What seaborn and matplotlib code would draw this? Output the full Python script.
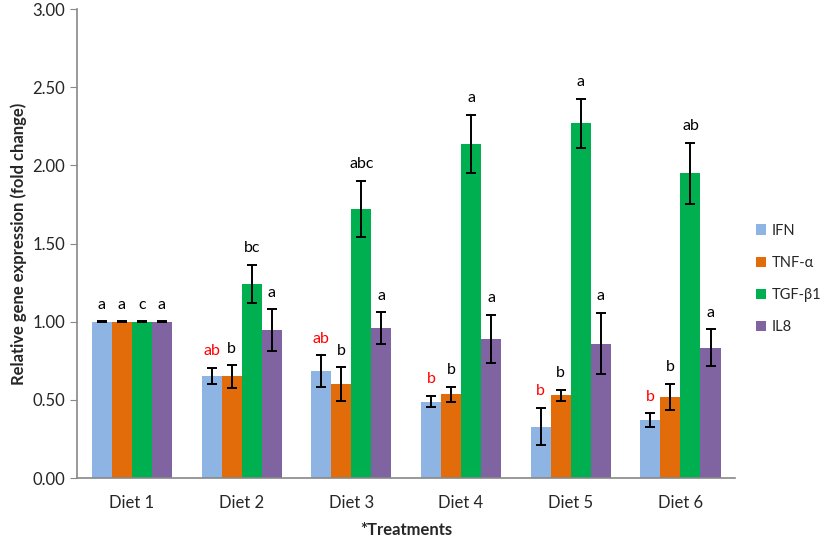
import matplotlib
matplotlib.use('Agg')
import matplotlib.pyplot as plt
import numpy as np
import pandas as pd
import seaborn as sns

# data
diets = ['Diet 1', 'Diet 2', 'Diet 3', 'Diet 4', 'Diet 5', 'Diet 6']
genes = ['IFN', 'TNF-α', 'TGF-β1', 'IL8']

ifn = [1.00, 0.655, 0.685, 0.49, 0.33, 0.37]
tnf = [1.00, 0.65, 0.60, 0.535, 0.53, 0.52]
tgf = [1.00, 1.24, 1.72, 2.14, 2.27, 1.95]
il8 = [1.00, 0.945, 0.96, 0.89, 0.86, 0.835]

ifn_err = [0.003, 0.05, 0.10, 0.035, 0.12, 0.045]
tnf_err = [0.003, 0.072, 0.108, 0.05, 0.034, 0.083]
tgf_err = [0.003, 0.123, 0.18, 0.186, 0.157, 0.195]
il8_err = [0.003, 0.135, 0.10, 0.155, 0.195, 0.117]

ifn_lab = ['a', 'ab', 'ab', 'b', 'b', 'b']
tnf_lab = ['a', 'b', 'b', 'b', 'b', 'b']
tgf_lab = ['c', 'bc', 'abc', 'a', 'a', 'ab']
il8_lab = ['a', 'a', 'a', 'a', 'a', 'a']

colors = ['#8DB4E3', '#E36C0A', '#00B050', '#8064A2']
label_colors = [['black'] + ['red'] * 5, ['black'] * 6, ['black'] * 6, ['black'] * 6]

values = [ifn, tnf, tgf, il8]
errors = [ifn_err, tnf_err, tgf_err, il8_err]
letters = [ifn_lab, tnf_lab, tgf_lab, il8_lab]

df = pd.DataFrame({
    'diet': diets * 4,
    'gene': [g for g in genes for _ in diets],
    'value': ifn + tnf + tgf + il8,
})

sns.set_style('white')
plt.rcParams['font.family'] = ['Lato', 'DejaVu Sans']

fig = plt.figure(figsize=(8.29, 5.39), dpi=100)
ax = fig.add_axes([0.093, 0.113, 0.794, 0.870])

sns.barplot(data=df, x='diet', y='value', hue='gene', order=diets, hue_order=genes,
            palette=colors, width=0.73, errorbar=None, saturation=1,
            linewidth=0, ax=ax, legend=True)

# error bars and significance letters
bar_groups = list(ax.containers)
for i, cont in enumerate(bar_groups):
    xs = [p.get_x() + p.get_width() / 2 for p in cont.patches]
    ax.errorbar(xs, values[i], yerr=errors[i], fmt='none', ecolor='black',
                elinewidth=1.4, capsize=3.5, capthick=1.4)
    for j, x in enumerate(xs):
        ax.annotate(letters[i][j], (x, values[i][j] + errors[i][j]),
                    xytext=(0, 7), textcoords='offset points',
                    ha='center', va='bottom', fontsize=11.5,
                    color=label_colors[i][j])

ax.set_ylim(0, 3.0)
ax.set_xlim(-0.5, 5.5)
ax.set_yticks(np.arange(0, 3.01, 0.5))
ax.set_yticklabels([f'{v:.2f}' for v in np.arange(0, 3.01, 0.5)], fontsize=12)
ax.set_xticks(range(len(diets)))
ax.set_xticklabels(diets, fontsize=12)
ax.set_xticks(np.arange(-0.5, 6, 1), minor=True)
ax.tick_params(axis='x', which='major', length=0, pad=12)
ax.tick_params(axis='x', which='minor', length=5, color='#888888', direction='out')
ax.tick_params(axis='y', length=5, color='#888888', direction='out', left=True)

for s in ['top', 'right']:
    ax.spines[s].set_visible(False)
for s in ['left', 'bottom']:
    ax.spines[s].set_color('#888888')
    ax.spines[s].set_linewidth(1.2)

ax.set_ylabel('Relative gene expression (fold change)', fontsize=12, fontweight='bold')
ax.set_xlabel('*Treatments', fontsize=12, fontweight='bold', labelpad=8)

handles, labs = ax.get_legend_handles_labels()
ax.legend(handles, labs, loc='upper left', bbox_to_anchor=(0.912, 0.585),
          bbox_transform=fig.transFigure, frameon=False, fontsize=10.5,
          borderpad=0, borderaxespad=0,
          handlelength=0.7, handleheight=0.7, handletextpad=0.35, labelspacing=1.25)

fig.savefig('out.png', dpi=100)
